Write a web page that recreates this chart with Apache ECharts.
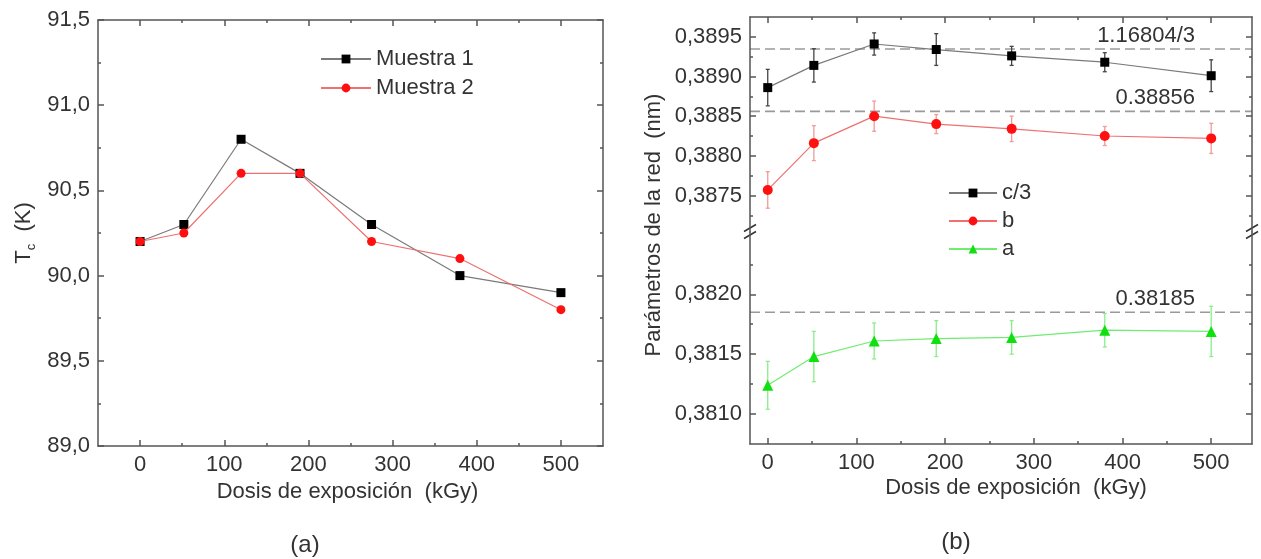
<!DOCTYPE html>
<html>
<head>
<meta charset="utf-8">
<script src="https://cdn.jsdelivr.net/npm/echarts@6/dist/echarts.min.js"></script>
<style>
  html, body { margin: 0; padding: 0; background: #fff; }
  #chart { width: 1261px; height: 559px; }
</style>
</head>
<body>
<div id="chart"></div>
<script>
// dosis (kGy)
const doses = [0, 52, 120, 190, 275, 380, 500]
// (a) Tc (K)
const muestra1 = [90.2, 90.3, 90.8, 90.6, 90.3, 90.0, 89.9]
const muestra2 = [90.2, 90.25, 90.6, 90.6, 90.2, 90.1, 89.8]
// (b) parametros de red (nm) y sus errores
const cParam = [0.38886, 0.38914, 0.38941, 0.38934, 0.38926, 0.38918, 0.38901]
const cErr = [0.00023, 0.00021, 0.00014, 0.00020, 0.00012, 0.00012, 0.00020]
const bParam = [0.38757, 0.38816, 0.38850, 0.38840, 0.38834, 0.38825, 0.38822]
const bErr = [0.00023, 0.00022, 0.00019, 0.00012, 0.00016, 0.00012, 0.00019]
const aParam = [0.38124, 0.38148, 0.38161, 0.38163, 0.38164, 0.38170, 0.38169]
const aErr = [0.00020, 0.00021, 0.00015, 0.00015, 0.00014, 0.00014, 0.00021]
// valores de referencia
const cRef = 1.16804 / 3
const bRef = 0.38856
const aRef = 0.38185

// ticks
const xMajor = [0, 100, 200, 300, 400, 500]
const xMinor = [50, 150, 250, 350, 450]
const tcMajor = [89.0, 89.5, 90.0, 90.5, 91.0, 91.5]
const tcMinor = [89.25, 89.75, 90.25, 90.75, 91.25]
const upMajor = [0.3875, 0.3880, 0.3885, 0.3890, 0.3895]
const upMinor = [0.38725, 0.38775, 0.38825, 0.38875, 0.38925]
const lowMajor = [0.3810, 0.3815, 0.3820]
const lowMinor = [0.38125, 0.38175, 0.38225]

const FONT = "'Liberation Sans', Arial, sans-serif"
const TEXT = '#333'
const AXIS = '#555'

function axis(grid, position, min, max, ticks, len, opts) {
    opts = opts || {}
    return {
        type: 'value',
        gridIndex: grid,
        position: position,
        min: min,
        max: max,
        splitLine: { show: false },
        axisLine: { show: !!opts.line, onZero: false, lineStyle: { color: AXIS, width: 1.5 } },
        axisTick: { show: true, inside: true, length: len, customValues: ticks, lineStyle: { color: AXIS, width: 1.5 } },
        axisLabel: opts.labels
            ? {
                  show: true,
                  customValues: ticks,
                  margin: 8,
                  color: TEXT,
                  fontSize: 22,
                  fontFamily: FONT,
                  formatter: opts.fmt,
              }
            : { show: false },
        name: opts.name,
        nameLocation: 'middle',
        nameGap: opts.nameGap,
        nameRotate: opts.nameRotate,
        nameTextStyle: opts.nameStyle,
    }
}

const xName = {
    color: TEXT,
    fontSize: 22,
    fontFamily: FONT,
}

const fmtTc = v => v.toFixed(1).replace('.', ',')
const fmtNm = v => v.toFixed(4).replace('.', ',')

const xAxis = [
    // (a)
    axis(0, 'bottom', -50, 550, xMajor, 6, { line: true, labels: true, fmt: v => String(v), name: 'Dosis de exposición  (kGy)', nameGap: 35, nameStyle: Object.assign({ padding: [0, 6, 0, 0] }, xName) }),
    axis(0, 'bottom', -50, 550, xMinor, 3),
    axis(0, 'top', -50, 550, xMajor, 6, { line: true }),
    axis(0, 'top', -50, 550, xMinor, 3),
    // (b) arriba
    axis(1, 'top', -20, 546, xMajor, 6, { line: true }),
    axis(1, 'top', -20, 546, xMinor, 3),
    // (b) abajo
    axis(2, 'bottom', -20, 546, xMajor, 6, { line: true, labels: true, fmt: v => String(v), name: 'Dosis de exposición  (kGy)', nameGap: 33, nameStyle: Object.assign({ padding: [0, 0, 0, 30] }, xName) }),
    axis(2, 'bottom', -20, 546, xMinor, 3),
]

const yAxis = [
    axis(0, 'left', 89.0, 91.5, tcMajor, 6, {
        line: true,
        labels: true,
        fmt: fmtTc,
        name: '{t|T}{s|c}{t|  (K)}',
        nameGap: 60,
        nameRotate: 90,
        nameStyle: {
            rich: {
                t: { fontSize: 22, fontFamily: FONT, color: TEXT, lineHeight: 28, verticalAlign: 'middle' },
                s: { fontSize: 13, fontFamily: FONT, color: TEXT, lineHeight: 28, verticalAlign: 'bottom' },
            },
        },
    }),
    axis(0, 'left', 89.0, 91.5, tcMinor, 3),
    axis(0, 'right', 89.0, 91.5, tcMajor, 6, { line: true }),
    axis(0, 'right', 89.0, 91.5, tcMinor, 3),

    axis(1, 'left', 0.38704, 0.38975, upMajor, 6, { line: true, labels: true, fmt: fmtNm }),
    axis(1, 'left', 0.38704, 0.38975, upMinor, 3),
    axis(1, 'right', 0.38704, 0.38975, upMajor, 6, { line: true }),
    axis(1, 'right', 0.38704, 0.38975, upMinor, 3),

    axis(2, 'left', 0.38075, 0.38252, lowMajor, 6, { line: true, labels: true, fmt: fmtNm }),
    axis(2, 'left', 0.38075, 0.38252, lowMinor, 3),
    axis(2, 'right', 0.38075, 0.38252, lowMajor, 6, { line: true }),
    axis(2, 'right', 0.38075, 0.38252, lowMinor, 3),
]

function pairs(ys) {
    return doses.map((d, i) => [d, ys[i]])
}

function errorBars(name, ys, errs, color, xi, yi) {
    return {
        type: 'custom',
        name: name,
        xAxisIndex: xi,
        yAxisIndex: yi,
        z: 1,
        silent: true,
        data: doses.map((d, i) => [d, ys[i] - errs[i], ys[i] + errs[i]]),
        encode: { x: 0, y: [1, 2] },
        renderItem: (params, api) => {
            const lo = api.coord([api.value(0), api.value(1)])
            const hi = api.coord([api.value(0), api.value(2)])
            const st = { stroke: color, lineWidth: 1.3 }
            return {
                type: 'group',
                children: [
                    { type: 'line', shape: { x1: lo[0], y1: lo[1], x2: hi[0], y2: hi[1] }, style: st },
                    { type: 'line', shape: { x1: lo[0] - 2, y1: lo[1], x2: lo[0] + 2, y2: lo[1] }, style: st },
                    { type: 'line', shape: { x1: hi[0] - 2, y1: hi[1], x2: hi[0] + 2, y2: hi[1] }, style: st },
                ],
            }
        },
    }
}

// linea discontinua horizontal de referencia con su etiqueta
function refLine(value, text, xi, yi) {
    return {
        type: 'custom',
        name: 'ref ' + text,
        xAxisIndex: xi,
        yAxisIndex: yi,
        z: 0,
        silent: true,
        data: [[0, value]],
        encode: { x: 0, y: 1 },
        renderItem: (params, api) => {
            const cs = params.coordSys
            const y = api.coord([0, api.value(1)])[1]
            return {
                type: 'group',
                children: [
                    {
                        type: 'line',
                        shape: { x1: cs.x, y1: y, x2: cs.x + cs.width, y2: y },
                        style: { stroke: '#9a9a9a', lineWidth: 1.6, lineDash: [10, 5] },
                    },
                    {
                        type: 'text',
                        x: cs.x + cs.width - 57,
                        y: y - 2,
                        style: { text: text, fill: TEXT, fontSize: 22, fontFamily: FONT, align: 'right', verticalAlign: 'bottom' },
                    },
                ],
            }
        },
    }
}

const series = [
    {
        type: 'line',
        name: 'Muestra 1',
        data: pairs(muestra1),
        symbol: 'rect',
        symbolSize: 9,
        itemStyle: { color: '#000' },
        lineStyle: { color: '#7a7a7a', width: 1.2 },
        z: 3,
    },
    {
        type: 'line',
        name: 'Muestra 2',
        data: pairs(muestra2),
        symbol: 'circle',
        symbolSize: 9,
        itemStyle: { color: '#ff1010' },
        lineStyle: { color: '#ee7070', width: 1.2 },
        z: 4,
    },
    refLine(cRef, '1.16804/3', 4, 4),
    refLine(bRef, '0.38856', 4, 4),
    refLine(aRef, '0.38185', 6, 8),
    errorBars('err c', cParam, cErr, '#444', 4, 4),
    errorBars('err b', bParam, bErr, '#f09a9a', 4, 4),
    errorBars('err a', aParam, aErr, '#8aee8a', 6, 8),
    {
        type: 'line',
        name: 'c/3',
        xAxisIndex: 4,
        yAxisIndex: 4,
        data: pairs(cParam),
        symbol: 'rect',
        symbolSize: 9,
        itemStyle: { color: '#000' },
        lineStyle: { color: '#7a7a7a', width: 1.2 },
        z: 3,
    },
    {
        type: 'line',
        name: 'b',
        xAxisIndex: 4,
        yAxisIndex: 4,
        data: pairs(bParam),
        symbol: 'circle',
        symbolSize: 10,
        itemStyle: { color: '#ff1010' },
        lineStyle: { color: '#ee7070', width: 1.2 },
        z: 3,
    },
    {
        type: 'line',
        name: 'a',
        xAxisIndex: 6,
        yAxisIndex: 8,
        data: pairs(aParam),
        symbol: 'triangle',
        symbolSize: 11,
        itemStyle: { color: '#10e010' },
        lineStyle: { color: '#70ec70', width: 1.2 },
        z: 3,
    },
]

function breakMark(x, y) {
    return {
        type: 'line',
        shape: { x1: x - 6, y1: y + 3.5, x2: x + 6, y2: y - 3.5 },
        style: { stroke: '#333', lineWidth: 1.5 },
    }
}

const legendText = { color: TEXT, fontSize: 22, fontFamily: FONT }

let myChart = echarts.init(document.getElementById('chart'), null, { renderer: 'canvas' })
myChart.setOption({
    animation: false,
    backgroundColor: '#fff',
    grid: [
        { left: 98, right: 658, top: 20, bottom: 113 },
        { left: 750, right: 9, top: 17, height: 215 },
        { left: 750, right: 9, top: 232, bottom: 115 },
    ],
    xAxis: xAxis,
    yAxis: yAxis,
    legend: [
        {
            data: ['Muestra 1', 'Muestra 2'],
            orient: 'vertical',
            left: 320,
            top: 48,
            padding: 0,
            itemGap: 7,
            itemWidth: 50,
            itemHeight: 11,
            textStyle: legendText,
        },
        {
            data: ['c/3', 'b', 'a'],
            orient: 'vertical',
            left: 948,
            top: 182,
            padding: 0,
            itemGap: 6,
            itemWidth: 48,
            itemHeight: 11,
            textStyle: legendText,
        },
    ],
    graphic: [
        {
            type: 'text',
            x: 654,
            y: 225,
            rotation: Math.PI / 2,
            style: { text: 'Parámetros de la red  (nm)', fill: TEXT, fontSize: 22, fontFamily: FONT, align: 'center', verticalAlign: 'middle' },
        },
        {
            type: 'text',
            x: 305,
            y: 545,
            style: { text: '(a)', fill: TEXT, fontSize: 24, fontFamily: FONT, align: 'center', verticalAlign: 'middle' },
        },
        {
            type: 'text',
            x: 956,
            y: 542,
            style: { text: '(b)', fill: TEXT, fontSize: 24, fontFamily: FONT, align: 'center', verticalAlign: 'middle' },
        },
        breakMark(750, 228),
        breakMark(750, 235),
        breakMark(1252, 228),
        breakMark(1252, 235),
    ],
    series: series,
})
</script>
</body>
</html>
